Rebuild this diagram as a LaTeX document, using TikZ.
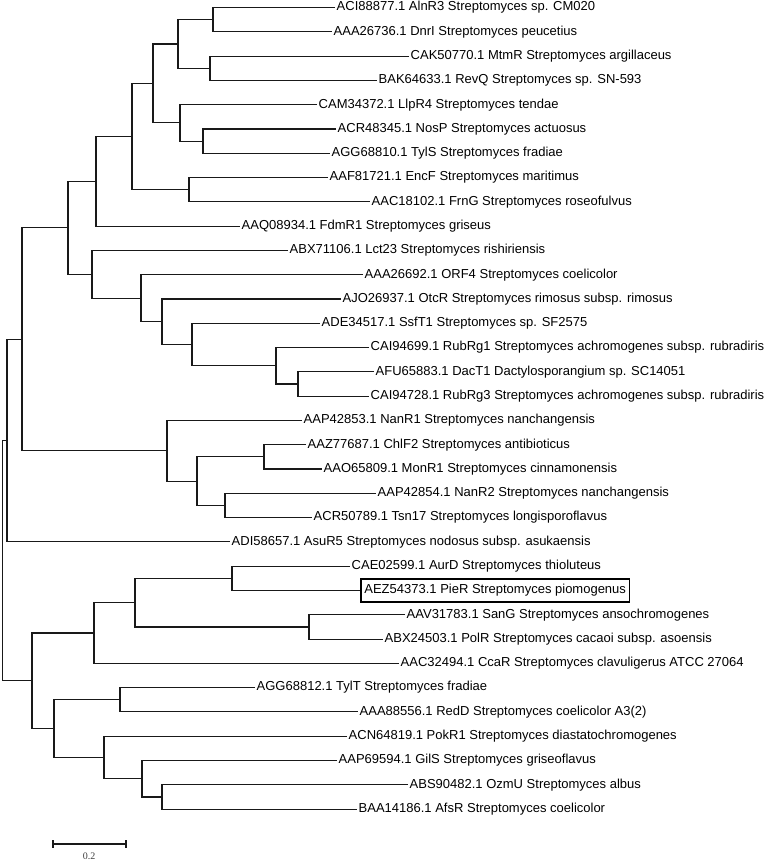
\documentclass[tikz,border=0pt]{standalone}
\usepackage{fontspec}
\setmainfont{Liberation Sans}
\newfontfamily\barfont{Liberation Serif}
\usepackage{tikz}

\begin{document}
\begin{tikzpicture}[
  x=1pt, y=-1pt,
  branch/.style={draw=black!90, line width=1.1pt},
  leaf/.style={
    anchor=west,
    inner sep=1.5pt,
    font=\fontsize{13}{15}\selectfont
  },
  marked/.style={
    leaf,
    draw,
    line width=1.8pt,
    inner xsep=3.5pt,
    minimum height=23pt
  }
]
\useasboundingbox (0,0) rectangle (770,862);

% leaves
\node[leaf] (alnR3)  at (335,7.5)   {ACI88877.1 AlnR3 Streptomyces sp. CM020};
\node[leaf] (dnrI)   at (332,31.8)  {AAA26736.1 DnrI Streptomyces peucetius};
\node[leaf] (mtmR)   at (409,56.1)  {CAK50770.1 MtmR Streptomyces argillaceus};
\node[leaf] (revQ)   at (377,80.4)  {BAK64633.1 RevQ Streptomyces sp. SN-593};
\node[leaf] (llpR4)  at (317,104.7) {CAM34372.1 LlpR4 Streptomyces tendae};
\node[leaf] (nosP)   at (336,129.0) {ACR48345.1 NosP Streptomyces actuosus};
\node[leaf] (tylS)   at (330,153.2) {AGG68810.1 TylS Streptomyces fradiae};
\node[leaf] (encF)   at (328,177.5) {AAF81721.1 EncF Streptomyces maritimus};
\node[leaf] (frnG)   at (370,201.8) {AAC18102.1 FrnG Streptomyces roseofulvus};
\node[leaf] (fdmR1)  at (240,226.1) {AAQ08934.1 FdmR1 Streptomyces griseus};
\node[leaf] (lct23)  at (288,250.4) {ABX71106.1 Lct23 Streptomyces rishiriensis};
\node[leaf] (orf4)   at (363,274.7) {AAA26692.1 ORF4 Streptomyces coelicolor};
\node[leaf] (otcR)   at (341,299.0) {AJO26937.1 OtcR Streptomyces rimosus subsp. rimosus};
\node[leaf] (ssfT1)  at (320,323.3) {ADE34517.1 SsfT1 Streptomyces sp. SF2575};
\node[leaf] (rubRg1) at (369,347.6) {CAI94699.1 RubRg1 Streptomyces achromogenes subsp. rubradiris};
\node[leaf] (dacT1)  at (374,371.9) {AFU65883.1 DacT1 Dactylosporangium sp. SC14051};
\node[leaf] (rubRg3) at (369,396.1) {CAI94728.1 RubRg3 Streptomyces achromogenes subsp. rubradiris};
\node[leaf] (nanR1)  at (302,420.4) {AAP42853.1 NanR1 Streptomyces nanchangensis};
\node[leaf] (chlF2)  at (306,444.7) {AAZ77687.1 ChlF2 Streptomyces antibioticus};
\node[leaf] (monR1)  at (322,469.0) {AAO65809.1 MonR1 Streptomyces cinnamonensis};
\node[leaf] (nanR2)  at (376,493.3) {AAP42854.1 NanR2 Streptomyces nanchangensis};
\node[leaf] (tsn17)  at (312,517.6) {ACR50789.1 Tsn17 Streptomyces longisporoflavus};
\node[leaf] (asuR5)  at (230,541.9) {ADI58657.1 AsuR5 Streptomyces nodosus subsp. asukaensis};
\node[leaf] (aurD)   at (350,566.2) {CAE02599.1 AurD Streptomyces thioluteus};
\node[marked] (pieR) at (360,590.5) {AEZ54373.1 PieR Streptomyces piomogenus};
\node[leaf] (sanG)   at (405,614.8) {AAV31783.1 SanG Streptomyces ansochromogenes};
\node[leaf] (polR)   at (383,639.1) {ABX24503.1 PolR Streptomyces cacaoi subsp. asoensis};
\node[leaf] (ccaR)   at (399,663.4) {AAC32494.1 CcaR Streptomyces clavuligerus ATCC 27064};
\node[leaf] (tylT)   at (255,687.6) {AGG68812.1 TylT Streptomyces fradiae};
\node[leaf] (redD)   at (358,711.9) {AAA88556.1 RedD Streptomyces coelicolor A3(2)};
\node[leaf] (pokR1)  at (347,736.2) {ACN64819.1 PokR1 Streptomyces diastatochromogenes};
\node[leaf] (gilS)   at (337,760.5) {AAP69594.1 GilS Streptomyces griseoflavus};
\node[leaf] (ozmU)   at (408,784.8) {ABS90482.1 OzmU Streptomyces albus};
\node[leaf] (afsR)   at (357,809.1) {BAA14186.1 AfsR Streptomyces coelicolor};

% inner nodes
\coordinate (alnDnr)  at (213,19.65);
\coordinate (mtmRev)  at (210,68.25);
\coordinate (cladeA)  at (178,43.95);
\coordinate (nosTyl)  at (203,141.1);
\coordinate (llpNos)  at (180,122.9);
\coordinate (cladeB)  at (153,83.4);
\coordinate (encFrn)  at (189,189.65);
\coordinate (cladeC)  at (132,136.5);
\coordinate (cladeD)  at (96,181.3);
\coordinate (dacRub)  at (298,384.0);
\coordinate (rubDac)  at (276,365.8);
\coordinate (ssfRub)  at (192,344.55);
\coordinate (otcSsf)  at (162,321.8);
\coordinate (orfOtc)  at (141,298.25);
\coordinate (lctOrf)  at (92,274.3);
\coordinate (upper)   at (68,227.8);
\coordinate (chlMon)  at (264,456.85);
\coordinate (nanTsn)  at (225,505.45);
\coordinate (chlNan)  at (197,481.15);
\coordinate (nanClade) at (167,450.8);
\coordinate (bigClade) at (22,339.3);
\coordinate (asuJoin) at (7,440.6);
\coordinate (aurPie)  at (232,578.35);
\coordinate (sanPol)  at (309,626.95);
\coordinate (piePol)  at (135,602.65);
\coordinate (ccaJoin) at (94,633.0);
\coordinate (tylRed)  at (120,699.75);
\coordinate (ozmAfs)  at (162,796.95);
\coordinate (gilAfs)  at (142,778.7);
\coordinate (pokAfs)  at (104,757.45);
\coordinate (tylAfs)  at (54,728.6);
\coordinate (lower)   at (32,680.8);
\coordinate (root)    at (2.5,560.7);

% branches
\draw[branch] (alnR3.west) -| (alnDnr) |- (dnrI.west);
\draw[branch] (mtmR.west) -| (mtmRev) |- (revQ.west);
\draw[branch] (alnDnr) -| (cladeA) |- (mtmRev);
\draw[branch] (nosP.west) -| (nosTyl) |- (tylS.west);
\draw[branch] (llpR4.west) -| (llpNos) |- (nosTyl);
\draw[branch] (cladeA) -| (cladeB) |- (llpNos);
\draw[branch] (encF.west) -| (encFrn) |- (frnG.west);
\draw[branch] (cladeB) -| (cladeC) |- (encFrn);
\draw[branch] (cladeC) -| (cladeD) |- (fdmR1.west);
\draw[branch] (dacT1.west) -| (dacRub) |- (rubRg3.west);
\draw[branch] (rubRg1.west) -| (rubDac) |- (dacRub);
\draw[branch] (ssfT1.west) -| (ssfRub) |- (rubDac);
\draw[branch] (otcR.west) -| (otcSsf) |- (ssfRub);
\draw[branch] (orf4.west) -| (orfOtc) |- (otcSsf);
\draw[branch] (lct23.west) -| (lctOrf) |- (orfOtc);
\draw[branch] (cladeD) -| (upper) |- (lctOrf);
\draw[branch] (chlF2.west) -| (chlMon) |- (monR1.west);
\draw[branch] (nanR2.west) -| (nanTsn) |- (tsn17.west);
\draw[branch] (chlMon) -| (chlNan) |- (nanTsn);
\draw[branch] (nanR1.west) -| (nanClade) |- (chlNan);
\draw[branch] (upper) -| (bigClade) |- (nanClade);
\draw[branch] (bigClade) -| (asuJoin) |- (asuR5.west);
\draw[branch] (aurD.west) -| (aurPie) |- (pieR.west);
\draw[branch] (sanG.west) -| (sanPol) |- (polR.west);
\draw[branch] (aurPie) -| (piePol) |- (sanPol);
\draw[branch] (piePol) -| (ccaJoin) |- (ccaR.west);
\draw[branch] (tylT.west) -| (tylRed) |- (redD.west);
\draw[branch] (ozmU.west) -| (ozmAfs) |- (afsR.west);
\draw[branch] (gilS.west) -| (gilAfs) |- (ozmAfs);
\draw[branch] (pokR1.west) -| (pokAfs) |- (gilAfs);
\draw[branch] (tylRed) -| (tylAfs) |- (pokAfs);
\draw[branch] (ccaJoin) -| (lower) |- (tylAfs);
\draw[branch] (asuJoin) -| (root) |- (lower);

% scale bar
\coordinate (barL) at (53,844);
\coordinate (barR) at (126,844);
\draw[branch] (barL) -- (barR);
\draw[branch] ([yshift=4pt]barL) -- ([yshift=-4pt]barL);
\draw[branch] ([yshift=4pt]barR) -- ([yshift=-4pt]barR);
\node[font=\barfont\fontsize{10}{12}\selectfont, text=black!75] (barText) at (89,856) {0.2};
\end{tikzpicture}
\end{document}
